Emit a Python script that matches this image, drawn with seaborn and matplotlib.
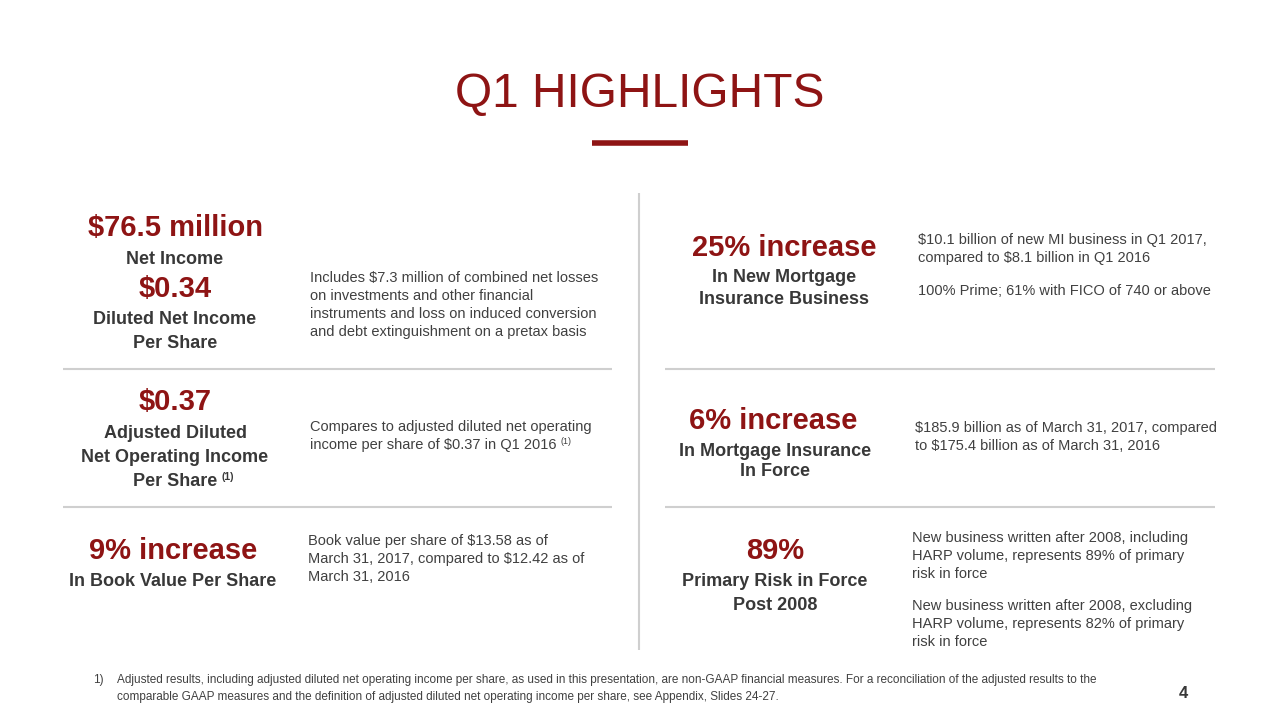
"""
Q1 highlights slide, rebuilt as a text layout on one matplotlib/seaborn canvas.
"""

import matplotlib
matplotlib.use("Agg")
import matplotlib.pyplot as plt
import seaborn as sns

# ─── Slide content ──────────────────────────────────────────────────────────
TITLE = "Q1 HIGHLIGHTS"

HEADLINES = ["$76.5 million", "$0.34", "$0.37", "9% increase",
             "25% increase", "6% increase", "89%"]

CAPTIONS = [
    ["Net Income"],
    ["Diluted Net Income", "Per Share"],
    ["Adjusted Diluted", "Net Operating Income", "Per Share"],
    ["In Book Value Per Share"],
    ["In New Mortgage", "Insurance Business"],
    ["In Mortgage Insurance", "In Force"],
    ["Primary Risk in Force", "Post 2008"],
]

NOTES = [
    ["Includes $7.3 million of combined net losses",
     "on investments and other financial",
     "instruments and loss on induced conversion",
     "and debt extinguishment on a pretax basis"],
    ["Compares to adjusted diluted net operating",
     "income per share of $0.37 in Q1 2016"],
    ["Book value per share of $13.58 as of",
     "March 31, 2017, compared to $12.42 as of",
     "March 31, 2016"],
    ["$10.1 billion of new MI business in Q1 2017,",
     "compared to $8.1 billion in Q1 2016"],
    ["100% Prime; 61% with FICO of 740 or above"],
    ["$185.9 billion as of March 31, 2017, compared",
     "to $175.4 billion as of March 31, 2016"],
    ["New business written after 2008, including",
     "HARP volume, represents 89% of primary",
     "risk in force"],
    ["New business written after 2008, excluding",
     "HARP volume, represents 82% of primary",
     "risk in force"],
]

FOOTNOTE = ["Adjusted results, including adjusted diluted net operating income per share, as used in this presentation, are non-GAAP financial measures. For a reconciliation of the adjusted results to the",
            "comparable GAAP measures and the definition of adjusted diluted net operating income per share, see Appendix, Slides 24-27."]
PAGE = "4"

# ─── Layout (pixel coordinates on a 1280x720 canvas) ────────────────────────
HEAD_POS = [(175, 228), (175, 289), (175, 402), (173, 551),
            (784, 248), (773, 421), (775, 551)]
CAP_POS = [(175, 259), (175, 320), (175, 433), (173, 582),
           (784, 278), (775, 451), (775, 581)]
CAP_STEP = [0, 23, 24, 0, 22, 21, 24]
NOTE_POS = [(310, 278), (310, 427), (308, 541), (918, 240), (918, 291),
            (915, 428), (912, 538), (912, 606)]
NOTE_STEP = 18

RED = "#8e1414"
DARK = "#383838"
BODY = "#404040"
RULE = "#cfcfcf"

sns.set_theme(style="white")
plt.rcParams["font.family"] = ["Liberation Sans", "DejaVu Sans"]

fig = plt.figure(figsize=(12.8, 7.2), dpi=100)
ax = fig.add_axes([0, 0, 1, 1])
ax.set_xlim(0, 1280)
ax.set_ylim(720, 0)
ax.axis("off")

# Title and accent bar
ax.text(640, 94, TITLE, ha="center", va="center", fontsize=34.5, color=RED)
ax.hlines(143, 592, 688, color=RED, linewidth=4)

# Dividers
ax.vlines(639, 193, 650, color=RULE, linewidth=1.5)
for y in (369, 507):
    ax.hlines(y, 63, 612, color=RULE, linewidth=1.5)
    ax.hlines(y, 665, 1215, color=RULE, linewidth=1.5)

# Headline values and their captions
for i, (head, caps) in enumerate(zip(HEADLINES, CAPTIONS)):
    hx, hy = HEAD_POS[i]
    ax.text(hx, hy, head, ha="center", va="center", fontsize=21,
            fontweight="bold", color=RED)
    cx, cy = CAP_POS[i]
    for j, line in enumerate(caps):
        t = ax.text(cx, cy + j * CAP_STEP[i], line, ha="center", va="center",
                    fontsize=13, fontweight="bold", color=DARK)
        if i == 2 and j == 2:
            ax.annotate("(1)", xy=(1, 0.75), xycoords=t, xytext=(3, 0),
                        textcoords="offset points", fontsize=7.5,
                        fontweight="bold", color=DARK, va="center")

# Notes beside each headline
for i, lines in enumerate(NOTES):
    nx, ny = NOTE_POS[i]
    for j, line in enumerate(lines):
        t = ax.text(nx, ny + j * NOTE_STEP, line, ha="left", va="center",
                    fontsize=10.5, color=BODY)
        if i == 1 and j == 1:
            ax.annotate("(1)", xy=(1, 0.75), xycoords=t, xytext=(3, 0),
                        textcoords="offset points", fontsize=6.5,
                        color=BODY, va="center")

# Footnote and page number
ax.text(93, 680, "1)", ha="left", va="center", fontsize=8.5, color=BODY)
for j, line in enumerate(FOOTNOTE):
    ax.text(117, 680 + j * 17, line, ha="left", va="center", fontsize=8.5,
            color=BODY)
ax.text(1183, 694, PAGE, ha="center", va="center", fontsize=12,
        fontweight="bold", color=DARK)

fig.savefig("out.png", dpi=100, facecolor="white")
